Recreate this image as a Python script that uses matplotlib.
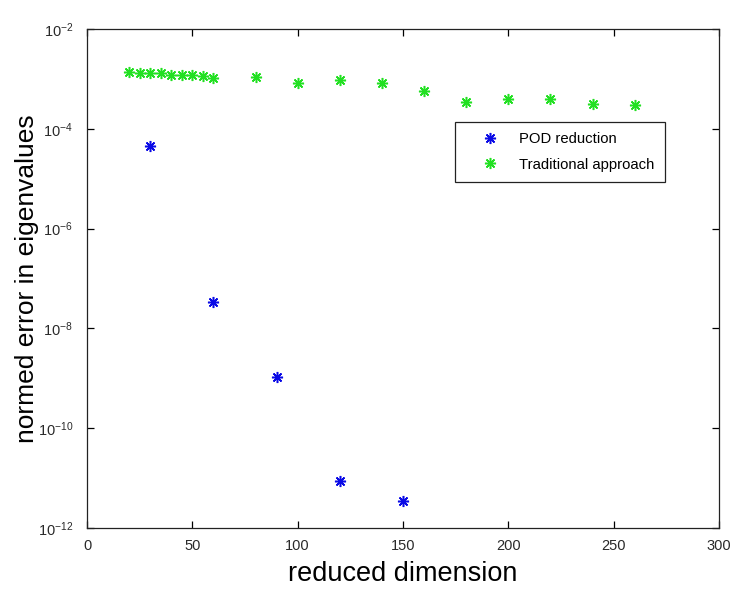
import numpy as np
import matplotlib
matplotlib.use("Agg")
import matplotlib.pyplot as plt
from matplotlib.ticker import FixedLocator, NullLocator, FuncFormatter

plt.rcParams['font.family'] = ['Liberation Sans', 'DejaVu Sans']
plt.rcParams['mathtext.fontset'] = 'custom'
plt.rcParams['mathtext.rm'] = 'Liberation Sans'

# values
pod_dim = [30, 60, 90, 120, 150]
pod_err = [4.5e-5, 3.4e-8, 1.07e-9, 8.7e-12, 3.4e-12]

trad_dim = [20, 25, 30, 35, 40, 45, 50, 55, 60, 80, 100, 120, 140, 160, 180, 200, 220, 240, 260]
trad_err = [1.37e-3, 1.3e-3, 1.3e-3, 1.3e-3, 1.2e-3, 1.2e-3, 1.2e-3, 1.12e-3, 1.05e-3,
            1.1e-3, 8.3e-4, 9.5e-4, 8.3e-4, 5.7e-4, 3.5e-4, 4.0e-4, 4.0e-4, 3.2e-4, 3.0e-4]

xticks = [0, 50, 100, 150, 200, 250, 300]
yticks = [1e-12, 1e-10, 1e-8, 1e-6, 1e-4, 1e-2]

fig = plt.figure(figsize=(7.32, 5.89), dpi=100)
ax = fig.add_axes([87/732, 1-528/589, 632/732, 499/589])

# matlab style asterisk markers
star = (8, 2, 0)
ax.plot(pod_dim, pod_err, linestyle='none', marker=star, markersize=8,
        markeredgewidth=1.1, color='#0a0ae6', label='POD reduction')
ax.plot(trad_dim, trad_err, linestyle='none', marker=star, markersize=8,
        markeredgewidth=1.1, color='#22e022', label='Traditional approach')

ax.set_yscale('log')
ax.set_xlim(0, 300)
ax.set_ylim(1e-12, 1e-2)
ax.xaxis.set_major_locator(FixedLocator(xticks))
ax.yaxis.set_major_locator(FixedLocator(yticks))
ax.yaxis.set_minor_locator(NullLocator())
ax.yaxis.set_major_formatter(FuncFormatter(
    lambda v, p: r'$\mathregular{10^{%d}}$' % int(round(np.log10(v)))))

ax.tick_params(direction='in', length=5, width=0.9, top=True, right=True,
               labelsize=10.5, labelcolor='#2a2a2a')
ax.tick_params(axis='x', pad=8)
ax.tick_params(axis='y', pad=10)
for s in ax.spines.values():
    s.set_linewidth(0.9)
    s.set_color('#222222')

ax.set_xlabel('reduced dimension', fontsize=19.5, labelpad=6)
ax.set_ylabel('normed error in eigenvalues', fontsize=19, labelpad=-1)

leg = ax.legend(loc='upper left', bbox_to_anchor=(0.582, 0.8136), borderaxespad=0,
                fontsize=10.7, fancybox=False, framealpha=1, edgecolor='#222222',
                borderpad=0.7, handlelength=3.3, handletextpad=0.35, labelspacing=0.75,
                numpoints=1)
leg.get_frame().set_linewidth(0.9)

fig.savefig('out.png', dpi=100)
